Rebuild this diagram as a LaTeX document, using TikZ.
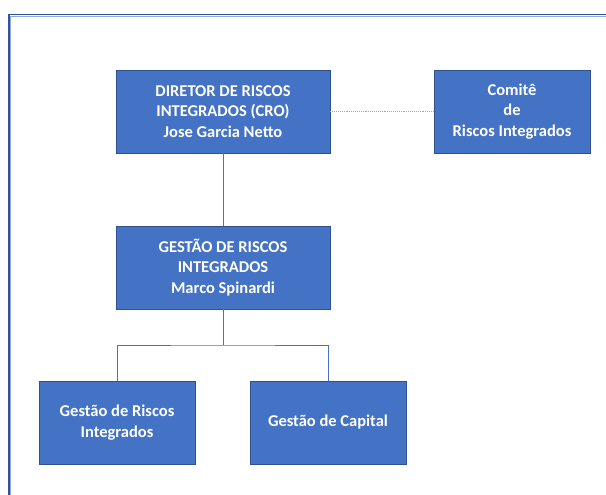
\documentclass[tikz,border=0pt]{standalone}
\usepackage{fontspec}
\setmainfont{Carlito}
\definecolor{boxblue}{HTML}{4472C4}
\definecolor{boxedge}{HTML}{2F528F}
\definecolor{framedark}{HTML}{2F5597}
\definecolor{framelight}{HTML}{8FAADC}
\definecolor{dotblue}{HTML}{8FAADC}
\begin{document}
\begin{tikzpicture}[x=1pt, y=-1pt, font=\fontsize{16.5}{20.5}\selectfont\bfseries,
	unit/.style={draw=boxedge, line width=0.6pt, fill=boxblue, text=white, align=center, inner sep=0pt},
	wide/.style={unit, minimum width=214pt, minimum height=83pt},
	narrow/.style={unit, minimum width=156pt, minimum height=83pt},
	link/.style={draw=boxblue, line width=0.8pt}]
	\useasboundingbox (0,0) rectangle (606,495);
	\clip (0,0) rectangle (606,495);
	% outer frame
	\draw[framedark, line width=1.4pt] (9,14.5) rectangle (640,540);
	\draw[framelight, line width=1pt] (10.6,16.1) rectangle (640,540);
	% boxes
	\node[wide] (cro) at (223,111.5) {DIRETOR DE RISCOS\\INTEGRADOS (CRO)\\Jose Garcia Netto};
	\node[narrow] (comite) at (512,111.5) {Comitê\\de\\Riscos Integrados};
	\node[wide] (gri) at (223,267.5) {GESTÃO DE RISCOS\\INTEGRADOS\\Marco Spinardi};
	\node[narrow] (gestriscos) at (117,422.5) {Gestão de Riscos\\Integrados};
	\node[narrow] (capital) at (328,422.5) {Gestão de Capital};
	\coordinate (fork) at (223,345);
	% connectors
	\draw[densely dotted, draw=dotblue, line width=0.9pt] (cro) -- (comite);
	\draw[link] (cro) -- (gri);
	\draw[link] (gri) -- (fork);
	\draw[link] (gestriscos.north) |- (fork) -| (capital.north);
\end{tikzpicture}
\end{document}
